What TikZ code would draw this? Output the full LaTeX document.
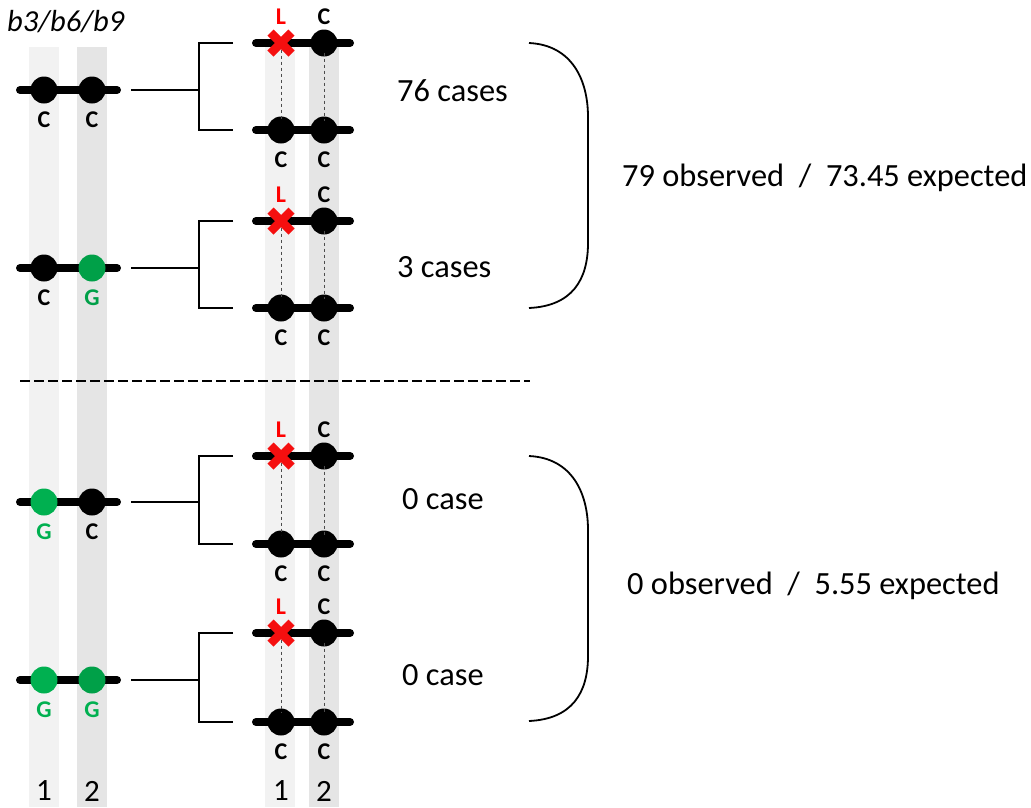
\documentclass[tikz,border=0pt]{standalone}
\usepackage{fontspec}
\setmainfont{Carlito}
\usetikzlibrary{shapes.misc}
\definecolor{bandA}{RGB}{242,242,242}
\definecolor{bandB}{RGB}{229,229,229}
\definecolor{greenA}{RGB}{0,176,80}
\definecolor{greenB}{RGB}{0,160,72}
\definecolor{crossred}{RGB}{245,15,15}
\begin{document}
\begin{tikzpicture}[x=1pt,y=-1pt,
  chrline/.style={line width=8pt,line cap=round,black},
  allele/.style={circle,fill=black,minimum size=27pt,inner sep=0pt,outer sep=0pt},
  xmark/.style={cross out,draw=crossred,line width=8.5pt,minimum size=21pt,inner sep=0pt,outer sep=0pt},
  lab/.style={font=\fontsize{24}{24}\selectfont\bfseries,inner sep=0pt},
  brk/.style={line width=1.8pt,black},
  dotl/.style={line width=0.9pt,black!70,dash pattern=on 3.5pt off 2.5pt},
  sep/.style={line width=2pt,black,dash pattern=on 10pt off 4pt},
  bigtext/.style={font=\fontsize{32.4}{32.4}\selectfont,anchor=west,inner sep=0pt},
  numtext/.style={font=\fontsize{31}{31}\selectfont,inner sep=0pt},
  bracepath/.style={line width=1.8pt,black}]
\useasboundingbox (0,0) rectangle (1031,807);
% bands
\fill[bandA] (29,47) rectangle (59,807);
\fill[bandB] (77,47) rectangle (107,807);
\fill[bandA] (265,40) rectangle (295,807);
\fill[bandB] (309,40) rectangle (339,807);
% title
\node[font=\fontsize{30.5}{30.5}\selectfont\itshape,anchor=west,inner sep=0pt] (title) at (7,22) {b3/b6/b9};
% separator
\coordinate (sepL) at (20,381);
\coordinate (sepR) at (530,381);
\draw[sep] (sepL) -- (sepR);
\foreach \i/\ly/\ty/\by/\ca/\cb/\la/\lb/\lca/\lcb in {
  1/90/43/130/black/black/C/C/black/black,
  2/268/221/308/black/greenB/C/G/black/greenB,
  3/502/456/544/greenA/black/G/C/greenA/black,
  4/680/633/722/greenA/greenB/G/G/greenA/greenA}{
  % left chromosome
  \coordinate (ls\i) at (20,\ly);
  \coordinate (le\i) at (117,\ly);
  \draw[chrline] (ls\i) -- (le\i);
  \node[allele,fill=\ca] (A\i) at (44,\ly) {};
  \node[allele,fill=\cb] (B\i) at (92,\ly) {};
  \node[lab,text=\lca] (la\i) at (44,\ly+30) {\la};
  \node[lab,text=\lcb] (lb\i) at (92,\ly+30) {\lb};
  % bracket
  \coordinate (h\i) at (131,\ly);
  \coordinate (k\i) at (199,\ly);
  \coordinate (bt\i) at (233,\ty);
  \coordinate (bb\i) at (233,\by);
  \draw[brk] (h\i) -- (k\i);
  \draw[brk] (bt\i) -| (k\i) |- (bb\i);
  % right chromosomes
  \coordinate (rts\i) at (256,\ty);
  \coordinate (rte\i) at (350,\ty);
  \coordinate (rbs\i) at (256,\by);
  \coordinate (rbe\i) at (350,\by);
  \draw[chrline] (rts\i) -- (rte\i);
  \draw[chrline] (rbs\i) -- (rbe\i);
  \node[xmark] (X\i) at (281,\ty) {};
  \node[allele] (T\i) at (324,\ty) {};
  \node[allele] (P\i) at (281,\by) {};
  \node[allele] (Q\i) at (324,\by) {};
  \draw[dotl] ([yshift=4pt]X\i.south) -- ([yshift=-4pt]P\i.north);
  \draw[dotl] ([yshift=4pt]T\i.south) -- ([yshift=-4pt]Q\i.north);
  \node[lab,text=red] (tl\i) at (281,\ty-26) {L};
  \node[lab] (tr\i) at (324,\ty-26) {C};
  \node[lab] (bl\i) at (281,\by+30) {C};
  \node[lab] (br\i) at (324,\by+30) {C};
}
% case counts
\node[bigtext] (c1) at (397,91) {76 cases};
\node[bigtext] (c2) at (397,267) {3 cases};
\node[bigtext] (c3) at (402,499) {0 case};
\node[bigtext] (c4) at (402,675) {0 case};
% braces
\coordinate (b1t) at (529,43);
\coordinate (b1b) at (529,308);
\coordinate (b2t) at (529,456);
\coordinate (b2b) at (529,721);
\draw[bracepath] (b1t) .. controls (572,45) and (588,80) .. (588,117) -- (588,243) .. controls (588,280) and (572,306) .. (b1b);
\draw[bracepath] (b2t) .. controls (572,458) and (588,493) .. (588,530) -- (588,656) .. controls (588,693) and (572,719) .. (b2b);
\node[bigtext] (s1) at (622,178) {79 observed\ \ /\ \ 73.45 expected};
\node[bigtext] (s2) at (627,586) {0 observed\ \ /\ \ 5.55 expected};
% column numbers
\node[numtext] (n1) at (44,791) {1};
\node[numtext] (n2) at (92,791) {2};
\node[numtext] (n3) at (281,791) {1};
\node[numtext] (n4) at (324,791) {2};
\end{tikzpicture}
\end{document}
